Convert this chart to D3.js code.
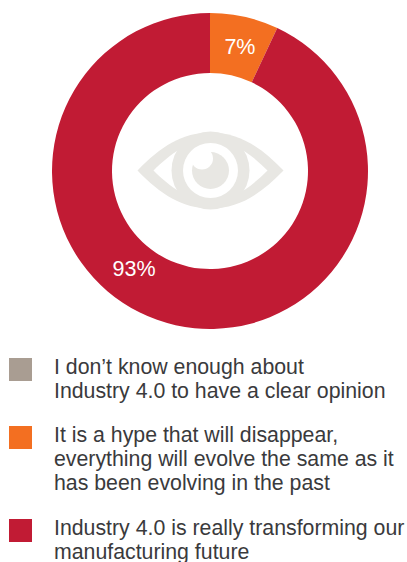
<!DOCTYPE html>
<html>
<head>
<meta charset="utf-8">
<script src="https://cdnjs.cloudflare.com/ajax/libs/d3/7.8.5/d3.min.js"></script>
<style>
  html, body { margin: 0; padding: 0; background: #fff; overflow: hidden; }
  text { font-family: "Liberation Sans", Arial, sans-serif; }
</style>
</head>
<body>
<svg id="chart" width="407" height="562"></svg>
<script>
// Survey answers on Industry 4.0, in legend order
const answers = [
  "I don\u2019t know enough about\nIndustry 4.0 to have a clear opinion",
  "It is a hype that will disappear,\neverything will evolve the same as it\nhas been evolving in the past",
  "Industry 4.0 is really transforming our\nmanufacturing future"
];
const shares = [0, 7, 93];
const shareLabels = ["", "7%", "93%"];
const colors = ["#a99d92", "#f36f21", "#c11b34"];

const svg = d3.select("#chart");
const cx = 210, cy = 171, outerR = 158, innerR = 98;

// Donut ring
const pie = d3.pie().sort(null).value(d => d)(shares);
const arc = d3.arc().innerRadius(innerR).outerRadius(outerR);
const ring = svg.append("g").attr("transform", `translate(${cx},${cy})`);

ring.selectAll("path")
  .data(pie)
  .join("path")
  .attr("d", arc)
  .attr("fill", (d, i) => colors[i]);

// Value labels sit on the ring; the large slice's label is placed low on its left side
const labelArc = d3.arc().innerRadius(128).outerRadius(128);
ring.selectAll("text")
  .data(pie.filter((d, i) => shareLabels[i] !== ""))
  .join("text")
  .attr("text-anchor", "middle")
  .attr("font-size", 21.5)
  .attr("fill", "#fff")
  .text(d => shareLabels[d.index])
  .attr("x", d => d.index === 1 ? labelArc.centroid(d)[0] + 2 : -76)
  .attr("y", d => d.index === 1 ? labelArc.centroid(d)[1] + 8 : 105);

// Eye emblem in the donut hole
const eye = svg.append("g").attr("transform", `translate(${cx + 0.5},${cy - 0.5})`);
const eyeGrey = "#e8e7e3";

function almond(halfWidth, cp1x, cp1y, cp2x, cp2y) {
  const p = d3.path();
  p.moveTo(-halfWidth, 0);
  p.bezierCurveTo(-cp1x, -cp1y, -cp2x, -cp2y, 0, -cp2y);
  p.bezierCurveTo(cp2x, -cp2y, cp1x, -cp1y, halfWidth, 0);
  p.bezierCurveTo(cp1x, cp1y, cp2x, cp2y, 0, cp2y);
  p.bezierCurveTo(-cp2x, cp2y, -cp1x, cp1y, -halfWidth, 0);
  p.closePath();
  return p.toString();
}

eye.append("path").attr("d", almond(73, 50, 24, 28, 38)).attr("fill", eyeGrey);
eye.append("path").attr("d", almond(57, 40, 17, 22, 30)).attr("fill", "#fff");
eye.append("circle").attr("r", 39).attr("fill", eyeGrey);
eye.append("circle").attr("r", 27.5).attr("fill", "#fff");
eye.append("circle").attr("r", 18.5).attr("fill", eyeGrey);
eye.append("circle").attr("cx", -8.5).attr("cy", -12).attr("r", 11).attr("fill", "#fff");

// Legend: colour swatch plus wrapped answer text
const legendTops = [358, 426, 519];
const legend = svg.append("g");
const rows = legend.selectAll("g")
  .data(answers)
  .join("g")
  .attr("transform", (d, i) => `translate(9,${legendTops[i]})`);

rows.append("rect")
  .attr("width", 23)
  .attr("height", 23)
  .attr("fill", (d, i) => colors[i]);

rows.append("text")
  .attr("font-size", 21.3)
  .attr("fill", "#3a3a3c")
  .selectAll("tspan")
  .data(d => d.split("\n"))
  .join("tspan")
  .attr("x", 45)
  .attr("y", (d, i) => 15.5 + i * 24.2)
  .text(d => d);
</script>
</body>
</html>
